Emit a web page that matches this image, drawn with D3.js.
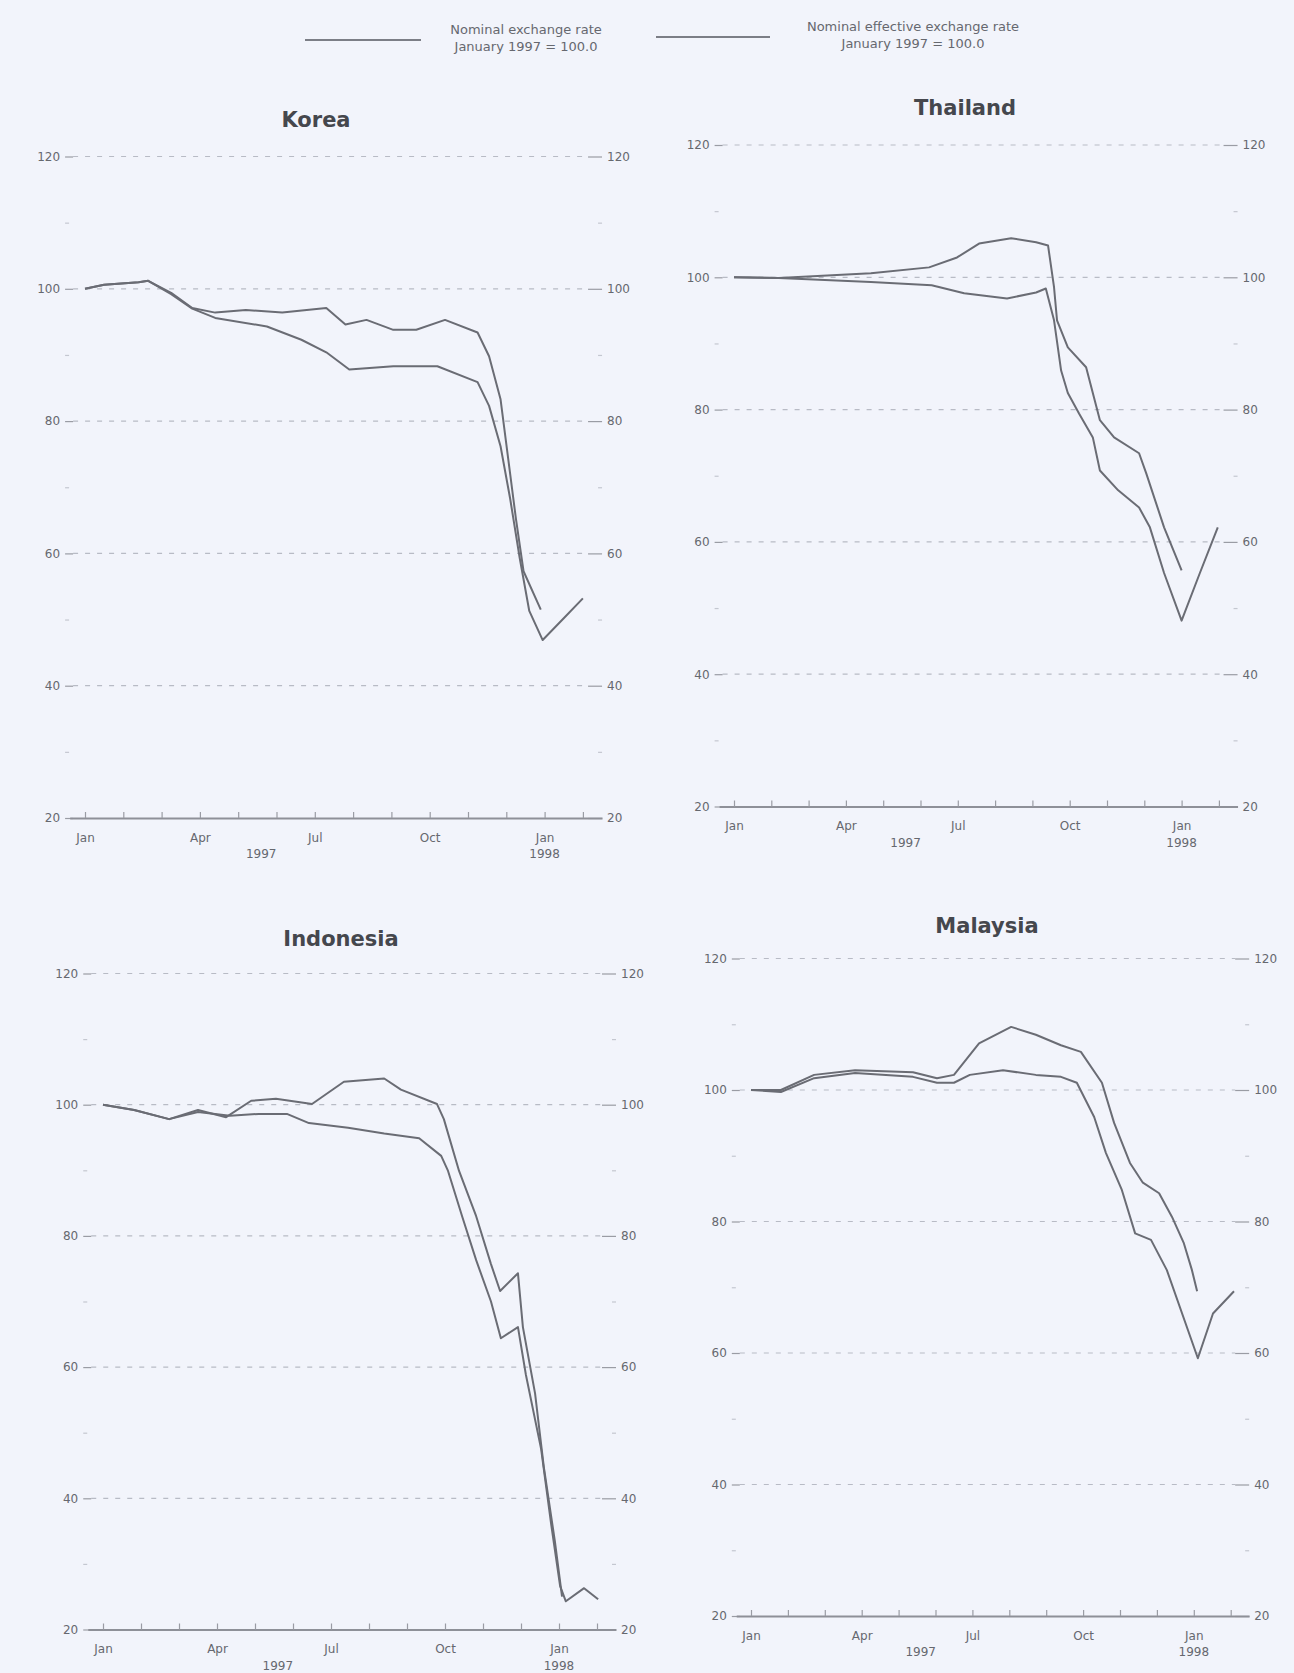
<!DOCTYPE html>
<html>
<head>
<meta charset="utf-8">
<title>Exchange rates, January 1997 - February 1998</title>
<script src="https://cdn.jsdelivr.net/npm/d3@7"></script>
<style>
    html, body { margin: 0; padding: 0; background: #f2f4fb; }
    svg { display: block; }
    .ptitle { font-family: "DejaVu Sans", sans-serif; font-weight: bold;
              font-size: 21px; fill: #45474d; }
    .axis text, .xnote { font-family: "DejaVu Sans", sans-serif;
                         font-size: 12px; fill: #66686f; }
    .axis line { stroke: #9a9ca4; stroke-width: 1.2; }
    .axis .domain { stroke: #8e9098; stroke-width: 2; }
    .minor line { stroke: #c4c7d0; }
    .grid { stroke: #b8bbc5; stroke-width: 1.2; stroke-dasharray: 5,7; }
    .series { fill: none; stroke: #6a6c74; stroke-width: 2;
              stroke-linejoin: round; }
    .legtext { font-family: "DejaVu Sans", sans-serif; font-size: 13px;
               fill: #66686f; }
</style>
</head>
<body>
<div id="chartdiv"></div>
<script>
/*global d3 */

// x values are months since the start of January 1997 (12 = Jan 1998)
var monthLabels = ["Jan", "", "", "Apr", "", "", "Jul", "", "", "Oct",
                   "", "", "Jan", ""];
var yearLabels = [["1997", 4.6], ["1998", 12]];
var yTicks = [20, 40, 60, 80, 100, 120];
var yMinor = [30, 50, 70, 90, 110];
var legendLabels = [["Nominal exchange rate", "January 1997 = 100.0"],
                    ["Nominal effective exchange rate", "January 1997 = 100.0"]];

// Korea
var koreaNerMonths = [0, 0.5, 1.4, 1.65, 2.25, 2.8, 3.4, 4.75, 5.65, 6.3, 6.9,
                      8.05, 9.2, 10.25, 10.55, 10.85, 11.1, 11.35, 11.6,
                      11.95, 12.5, 13.0];
var koreaNerValues = [100, 100.6, 101, 101.2, 99.2, 97, 95.6, 94.3, 92.3,
                      90.4, 87.8, 88.3, 88.3, 85.9, 82.3, 76.2, 68.3, 59.3,
                      51.3, 46.9, 50.2, 53.2];
var koreaNeerMonths = [0, 0.5, 1.4, 1.65, 2.25, 2.8, 3.4, 4.2, 5.15, 6.3, 6.8,
                       7.35, 8.05, 8.65, 9.4, 10.25, 10.55, 10.85, 11.05,
                       11.25, 11.45, 11.9];
var koreaNeerValues = [100, 100.6, 101, 101.2, 99.4, 97.1, 96.4, 96.8, 96.4,
                       97.1, 94.6, 95.3, 93.8, 93.8, 95.3, 93.4, 89.8, 83.3,
                       74.3, 65.3, 57.3, 51.5];

// Thailand
var thaiNerMonths = [0, 1.2, 3.67, 5.3, 6.17, 7.32, 8.1, 8.36, 8.58, 8.77,
                     8.95, 9.25, 9.62, 9.81, 10.3, 10.86, 11.15, 11.53, 12.0,
                     12.49, 12.97];
var thaiNerValues = [100, 99.9, 99.3, 98.8, 97.6, 96.8, 97.7, 98.3, 93.5,
                     85.9, 82.5, 79.4, 75.8, 70.8, 67.8, 65.2, 62.2, 55.3,
                     48.1, 55.3, 62.2];
var thaiNeerMonths = [0, 1.2, 3.67, 5.23, 5.98, 6.57, 7.43, 8.1, 8.42, 8.58,
                      8.66, 8.95, 9.44, 9.81, 10.19, 10.86, 11.05, 11.53, 12.0];
var thaiNeerValues = [100, 99.9, 100.6, 101.5, 103, 105.1, 105.9, 105.3,
                      104.8, 98.5, 93.5, 89.4, 86.4, 78.4, 75.8, 73.4, 70.4,
                      62.2, 55.7];

// Indonesia
var indoNerMonths = [0, 0.82, 1.74, 2.5, 3.34, 4.1, 4.84, 5.42, 6.45, 7.4,
                     8.32, 8.9, 9.08, 9.45, 9.82, 10.21, 10.47, 10.92, 11.13,
                     11.53, 11.79, 12.03, 12.18, 12.66, 13.03];
var indoNerValues = [100, 99.2, 97.8, 98.9, 98.3, 98.6, 98.6, 97.2, 96.5,
                     95.6, 94.9, 92.2, 89.9, 83, 76.3, 70, 64.4, 66.1, 58.8,
                     47.5, 36.2, 26.6, 24.3, 26.3, 24.6];
var indoNeerMonths = [0, 0.82, 1.74, 2.5, 3.24, 3.9, 4.55, 5.5, 6.34, 7.4,
                      7.84, 8.79, 8.97, 9.37, 9.82, 10.21, 10.45, 10.92,
                      11.05, 11.37, 11.6, 11.89, 12.08];
var indoNeerValues = [100, 99.2, 97.8, 99.2, 98.1, 100.6, 100.9, 100.1,
                      103.5, 104, 102.3, 100.1, 97.8, 89.9, 83, 75.7, 71.6,
                      74.3, 66.1, 56, 44.8, 33.5, 25];

// Malaysia
var malayNerMonths = [0, 0.81, 1.71, 2.82, 4.39, 5.04, 5.5, 5.93, 6.83, 7.72,
                      8.4, 8.83, 9.3, 9.62, 10.05, 10.41, 10.84, 11.27, 12.11,
                      12.52, 13.09];
var malayNerValues = [100, 99.7, 101.8, 102.6, 102, 101.1, 101.1, 102.3, 103,
                      102.3, 102, 101.1, 95.9, 90.4, 84.8, 78.2, 77.2, 72.6,
                      59.2, 66, 69.4];
var malayNeerMonths = [0, 0.81, 1.71, 2.82, 4.39, 5.04, 5.5, 6.18, 7.05, 7.72,
                       8.4, 8.94, 9.51, 9.84, 10.27, 10.62, 11.06, 11.41,
                       11.73, 11.95, 12.09];
var malayNeerValues = [100, 100, 102.3, 103, 102.7, 101.8, 102.3, 107.1,
                       109.6, 108.4, 106.8, 105.8, 101.1, 95, 88.9, 85.9, 84.3,
                       80.7, 76.7, 72.6, 69.4];

var app = {};

app.crisis = (function () {
    "use strict";

    var svg;

    function pairs (months, values) {
        return months.map(function (m, i) { return {m: m, v: values[i]}; });
    }

    //where each panel sits on the page
    var panels = [
        {name: "Korea", janx: 85, mw: 38.3, ytop: 156.5, ybot: 818,
         tx: 316, ty: 127,
         ner: pairs(koreaNerMonths, koreaNerValues),
         neer: pairs(koreaNeerMonths, koreaNeerValues)},
        {name: "Thailand", janx: 734, mw: 37.3, ytop: 145, ybot: 806.5,
         tx: 965, ty: 115,
         ner: pairs(thaiNerMonths, thaiNerValues),
         neer: pairs(thaiNeerMonths, thaiNeerValues)},
        {name: "Indonesia", janx: 103, mw: 38, ytop: 973.5, ybot: 1629.5,
         tx: 341, ty: 946,
         ner: pairs(indoNerMonths, indoNerValues),
         neer: pairs(indoNeerMonths, indoNeerValues)},
        {name: "Malaysia", janx: 751, mw: 36.9, ytop: 958.5, ybot: 1616,
         tx: 987, ty: 933,
         ner: pairs(malayNerMonths, malayNerValues),
         neer: pairs(malayNeerMonths, malayNeerValues)}];


    function drawLegend () {
        var leg = [{x1: 305, x2: 421, y: 40, tx: 526, ty: 34},
                   {x1: 656, x2: 770, y: 37, tx: 913, ty: 31}];
        leg.forEach(function (l, i) {
            svg.append("line")
                .attr("x1", l.x1).attr("x2", l.x2)
                .attr("y1", l.y).attr("y2", l.y)
                .attr("stroke", "#7c7e86")
                .attr("stroke-width", 2.2);
            svg.append("text")
                .attr("class", "legtext")
                .attr("text-anchor", "middle")
                .attr("x", l.tx).attr("y", l.ty)
                .selectAll("tspan")
                .data(legendLabels[i])
                .enter().append("tspan")
                .attr("x", l.tx)
                .attr("dy", function (d, j) { return j ? 17 : 0; })
                .text(function (d) { return d; });
        });
    }


    function drawPanel (p) {
        var x, y, g, line, gs, ge;
        x = d3.scaleLinear().domain([-0.4, 13.5])
            .range([p.janx - 0.4 * p.mw, p.janx + 13.5 * p.mw]);
        y = d3.scaleLinear().domain([20, 120]).range([p.ybot, p.ytop]);
        gs = x(-0.52);
        ge = x(13.5);
        g = svg.append("g").attr("class", "panel");

        g.append("text")
            .attr("class", "ptitle")
            .attr("text-anchor", "middle")
            .attr("x", p.tx).attr("y", p.ty)
            .text(p.name);

        //dashed guides between the short solid end ticks
        g.selectAll(".grid")
            .data(yTicks.filter(function (d) { return d > 20; }))
            .enter().append("line")
            .attr("class", "grid")
            .attr("x1", gs + 8).attr("x2", ge - 14)
            .attr("y1", function (d) { return y(d); })
            .attr("y2", function (d) { return y(d); });

        g.append("g")
            .attr("class", "axis")
            .attr("transform", "translate(" + (gs + 8) + ",0)")
            .call(d3.axisLeft(y).tickValues(yTicks).tickSize(8).tickPadding(5))
            .call(function (a) { a.select(".domain").remove(); });
        g.append("g")
            .attr("class", "axis")
            .attr("transform", "translate(" + (ge - 14) + ",0)")
            .call(d3.axisRight(y).tickValues(yTicks).tickSize(14).tickPadding(5))
            .call(function (a) { a.select(".domain").remove(); });
        g.append("g")
            .attr("class", "axis minor")
            .attr("transform", "translate(" + (gs + 4) + ",0)")
            .call(d3.axisLeft(y).tickValues(yMinor).tickSize(4).tickFormat(""))
            .call(function (a) { a.select(".domain").remove(); });
        g.append("g")
            .attr("class", "axis minor")
            .attr("transform", "translate(" + (ge - 4) + ",0)")
            .call(d3.axisRight(y).tickValues(yMinor).tickSize(4).tickFormat(""))
            .call(function (a) { a.select(".domain").remove(); });

        g.append("g")
            .attr("class", "axis")
            .attr("transform", "translate(0," + p.ybot + ")")
            .call(d3.axisBottom(x)
                  .tickValues(d3.range(0, monthLabels.length))
                  .tickSizeInner(-6).tickSizeOuter(0).tickPadding(15)
                  .tickFormat(function (d) { return monthLabels[d]; }));
        g.selectAll(".xnote")
            .data(yearLabels)
            .enter().append("text")
            .attr("class", "xnote")
            .attr("text-anchor", "middle")
            .attr("x", function (d) { return x(d[1]); })
            .attr("y", p.ybot + 40)
            .text(function (d) { return d[0]; });

        line = d3.line()
            .x(function (d) { return x(d.m); })
            .y(function (d) { return y(d.v); });
        g.append("path").datum(p.neer).attr("class", "series").attr("d", line);
        g.append("path").datum(p.ner).attr("class", "series").attr("d", line);
    }


    function display () {
        svg = d3.select("#chartdiv").append("svg")
            .attr("width", 1294)
            .attr("height", 1673);
        svg.append("rect")
            .attr("width", 1294).attr("height", 1673)
            .attr("fill", "#f2f4fb");
        drawLegend();
        panels.forEach(drawPanel);
    }


    return {
        display: function () { display(); }
    };
}());

app.crisis.display();
</script>
</body>
</html>
